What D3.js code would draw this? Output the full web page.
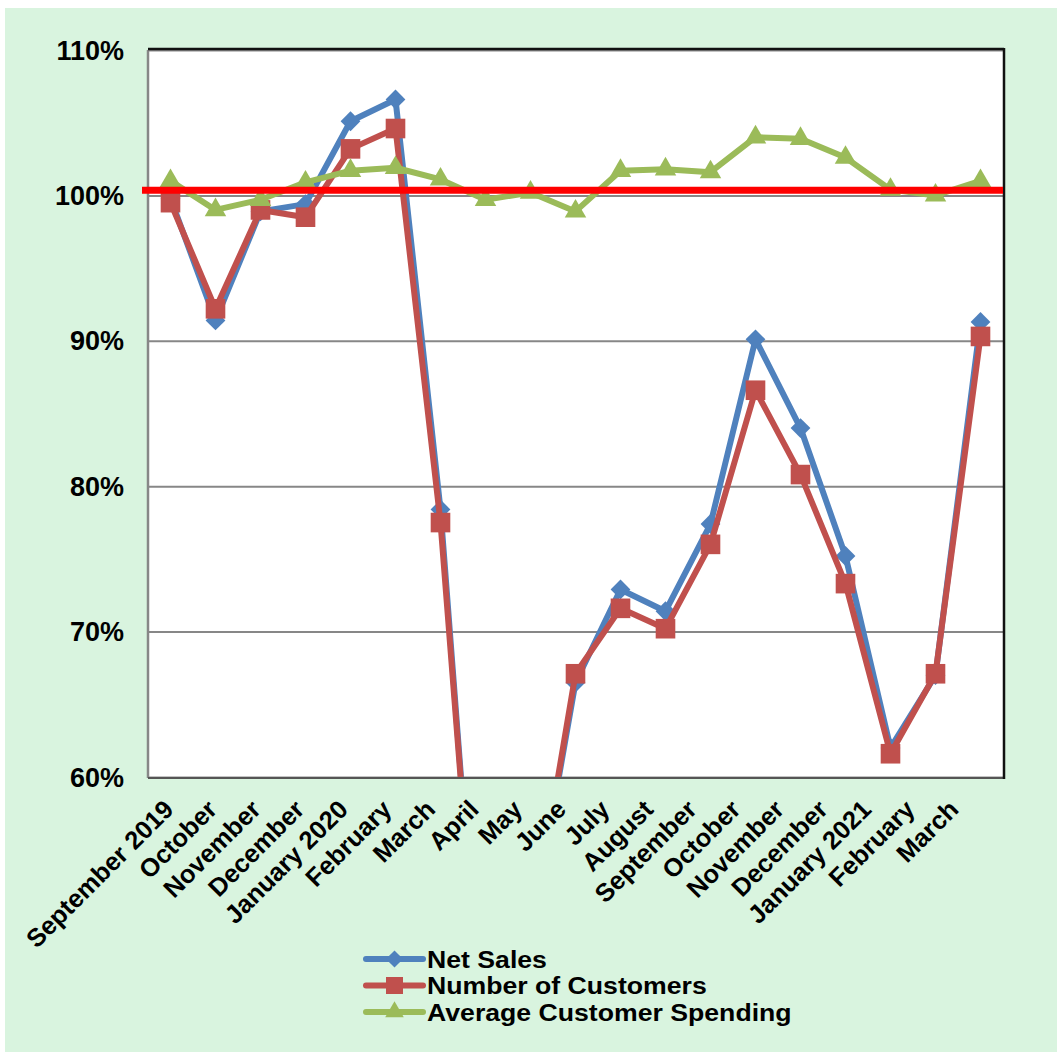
<!DOCTYPE html>
<html>
<head>
<meta charset="utf-8">
<script src="https://cdn.jsdelivr.net/npm/d3@7"></script>
<style>
  html, body { margin: 0; padding: 0; background: #ffffff; }
  svg { display: block; font-family: "Liberation Sans", Arial, sans-serif; }
</style>
</head>
<body>
<svg id="chart" width="1057" height="1052"></svg>
<script>
// Monthly year-on-year comparison (%)
const categories = [
  "September 2019", "October", "November", "December", "January 2020",
  "February", "March", "April", "May", "June", "July", "August",
  "September", "October ", "November ", "December ", "January 2021",
  "February ", "March "
];
const netSales = [99.8, 91.4, 98.9, 99.4, 105.1, 106.6, 78.4, 38.0, 48.9, 66.5, 72.9, 71.4, 77.4, 90.1, 84.0, 75.2, 62.0, 67.0, 91.3];
const numberOfCustomers = [99.5, 92.2, 99.0, 98.5, 103.2, 104.6, 77.5, 38.2, 48.8, 67.1, 71.6, 70.2, 76.0, 86.6, 80.8, 73.3, 61.6, 67.1, 90.3];
const avgSpending = [101.0, 99.0, 99.7, 100.9, 101.7, 101.9, 101.1, 99.7, 100.2, 98.9, 101.7, 101.8, 101.6, 104.0, 103.9, 102.6, 100.4, 100.0, 101.0];
const yTicks = [60, 70, 80, 90, 100, 110];
const referenceLevel = 100.35;
const seriesNames = ["Net Sales", "Number of Customers", "Average Customer Spending"];

const svg = d3.select("#chart");
const W = 1057, H = 1052;
const plot = { left: 148, top: 50, right: 1003, bottom: 777 };

// background panel
svg.append("rect").attr("x", 5).attr("y", 8).attr("width", W - 5).attr("height", H - 8)
  .attr("fill", "#d9f4df");

const x = d3.scalePoint().domain(categories).range([plot.left, plot.right]).padding(0.5);
const y = d3.scaleLinear().domain([60, 110]).range([plot.bottom, plot.top]);
// anchor points for the slanted month labels
const xLabel = d3.scalePoint().domain(categories).range([175, 960]);

// plot area
svg.append("rect").attr("x", plot.left).attr("y", plot.top)
  .attr("width", plot.right - plot.left).attr("height", plot.bottom - plot.top)
  .attr("fill", "#ffffff");

// horizontal gridlines
const yAxis = d3.axisLeft(y).tickValues(yTicks)
  .tickSize(-(plot.right - plot.left)).tickFormat(d => d + "%").tickPadding(24);
const gy = svg.append("g").attr("transform", `translate(${plot.left},0)`).call(yAxis);
gy.select(".domain").remove();
gy.selectAll(".tick line").attr("stroke", "#878787").attr("stroke-width", 2);
gy.selectAll(".tick text")
  .attr("font-size", 27).attr("font-weight", "bold").attr("fill", "#000")
  .attr("font-family", "Liberation Sans, Arial, sans-serif")
  .attr("dy", "0.34em");

// plot frame: grey left/bottom, dark top/right
svg.append("line").attr("x1", plot.left).attr("x2", plot.left).attr("y1", plot.top).attr("y2", plot.bottom + 1)
  .attr("stroke", "#878787").attr("stroke-width", 2.5);
svg.append("line").attr("x1", plot.left).attr("x2", plot.right + 1).attr("y1", plot.bottom + 1).attr("y2", plot.bottom + 1)
  .attr("stroke", "#555").attr("stroke-width", 2);
svg.append("line").attr("x1", plot.left).attr("x2", plot.right + 1).attr("y1", plot.top - 1).attr("y2", plot.top - 1)
  .attr("stroke", "#111").attr("stroke-width", 2.5);
svg.append("line").attr("x1", plot.right + 1).attr("x2", plot.right + 1).attr("y1", plot.top - 2).attr("y2", plot.bottom + 2)
  .attr("stroke", "#111").attr("stroke-width", 2.5);

// month labels
const xAxis = d3.axisBottom(x).tickSize(0).tickFormat(d => d.trim());
const gx = svg.append("g").attr("transform", `translate(0,${plot.bottom})`).call(xAxis);
gx.select(".domain").remove();
gx.selectAll(".tick").attr("transform", null);
gx.selectAll(".tick text")
  .attr("font-size", 25.5).attr("font-weight", "bold").attr("fill", "#000")
  .attr("font-family", "Liberation Sans, Arial, sans-serif")
  .attr("text-anchor", "end").attr("dy", 0).attr("y", 0)
  .attr("transform", d => `translate(${xLabel(d)},${34}) rotate(-45)`);

// series
svg.append("clipPath").attr("id", "plotClip").append("rect")
  .attr("x", plot.left).attr("y", plot.top - 20)
  .attr("width", plot.right - plot.left + 20).attr("height", plot.bottom - plot.top + 20);

const series = [
  { name: seriesNames[0], values: netSales, color: "#4f81bd", symbol: d3.symbolDiamond2, size: 250 },
  { name: seriesNames[1], values: numberOfCustomers, color: "#c0504d", symbol: d3.symbolSquare2, size: 490 },
  { name: seriesNames[2], values: avgSpending, color: "#9bbb59", symbol: d3.symbolTriangle2, size: 330 }
];

const line = d3.line().x((d, i) => x(categories[i])).y(d => y(d));
const body = svg.append("g").attr("clip-path", "url(#plotClip)");

series.forEach(s => {
  body.append("path").datum(s.values)
    .attr("d", line).attr("fill", "none")
    .attr("stroke", s.color).attr("stroke-width", 6)
    .attr("stroke-linejoin", "round").attr("stroke-linecap", "round");
  body.selectAll(null).data(s.values.map((v, i) => ({ v, c: categories[i] })).filter(d => d.v >= 60))
    .join("path")
    .attr("d", d3.symbol().type(s.symbol).size(s.size))
    .attr("transform", d => `translate(${x(d.c)},${y(d.v)})`)
    .attr("fill", s.color);
});

// 100% reference line
svg.append("line")
  .attr("x1", 142).attr("x2", plot.right)
  .attr("y1", y(referenceLevel)).attr("y2", y(referenceLevel))
  .attr("stroke", "#ff0000").attr("stroke-width", 7);

// legend
const legend = svg.append("g").attr("transform", "translate(366,959)");
series.forEach((s, i) => {
  const g = legend.append("g").attr("transform", `translate(0,${i * 26.5})`);
  g.append("line").attr("x1", 0).attr("x2", 57).attr("y1", 0).attr("y2", 0)
    .attr("stroke", s.color).attr("stroke-width", 6).attr("stroke-linecap", "round");
  g.append("path").attr("d", d3.symbol().type(s.symbol).size(s.size * 0.75))
    .attr("transform", "translate(28.5,0)").attr("fill", s.color);
  g.append("text").attr("x", 0).attr("y", 0).attr("dy", "0.36em")
    .attr("transform", "translate(61,0) scale(1.12,1)")
    .attr("font-size", 23.8).attr("font-weight", "bold").attr("fill", "#000")
    .text(s.name);
});
</script>
</body>
</html>
